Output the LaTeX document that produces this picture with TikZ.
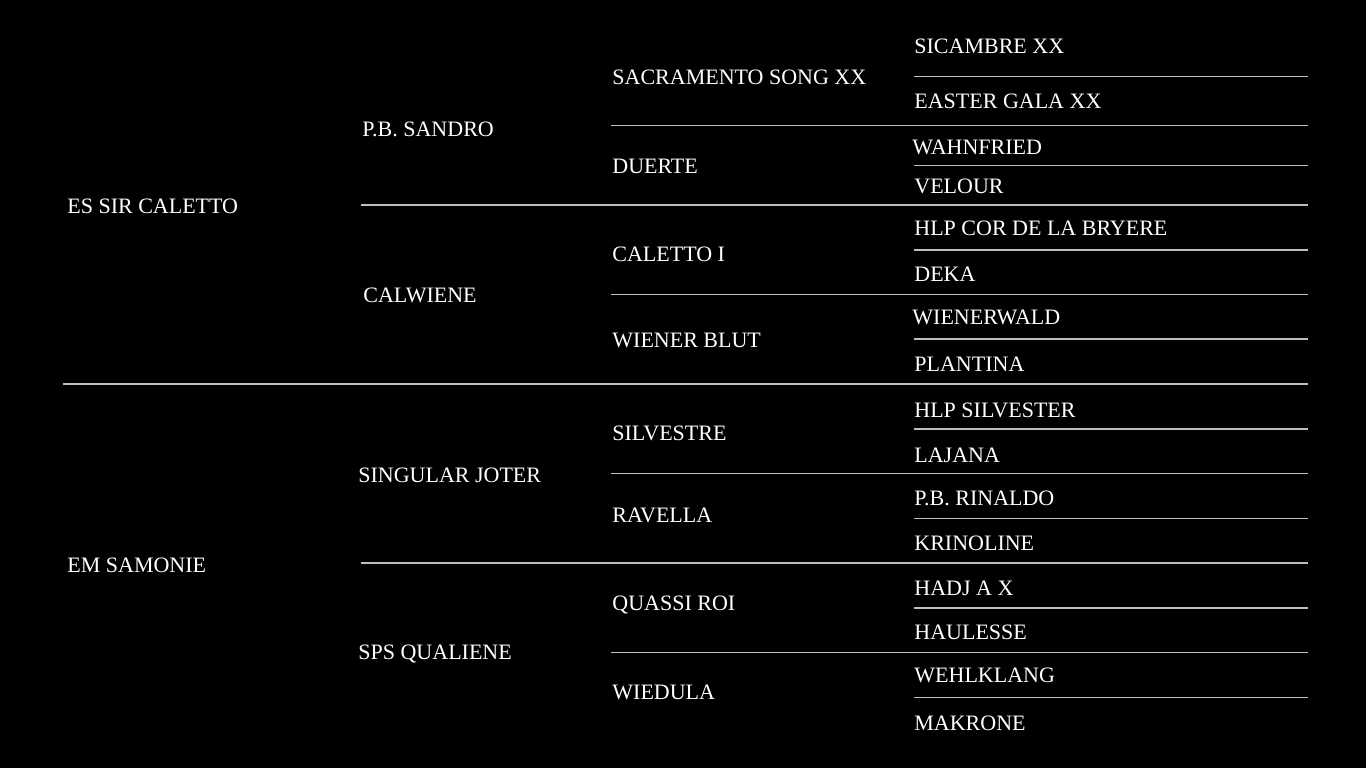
\documentclass[tikz,border=0pt]{standalone}
\usepackage{fontspec}
\setmainfont{Liberation Serif}
\definecolor{rulegray}{HTML}{BDBDBD}
\begin{document}
\begin{tikzpicture}[x=0.5pt, y=-0.5pt, font=\fontsize{11}{13}\selectfont, line join=round,
		horse/.style={anchor=base west, inner sep=0pt, text=white},
		rule/.style={draw=rulegray, line width=0.55pt}]
	\fill[black] (0,0) rectangle (1366,768);
	% separators
	\coordinate (L0) at (63,384);   \coordinate (R0) at (1308,384);
	\draw[rule] (L0)--(R0);
	\foreach \y in {205,563} {
		\coordinate (a) at (361,\y); \coordinate (b) at (1308,\y);
		\draw[rule] (a)--(b);
	}
	\foreach \y in {125.3,294.5,473.5,652.7} {
		\coordinate (a) at (611,\y); \coordinate (b) at (1308,\y);
		\draw[rule] (a)--(b);
	}
	\foreach \y in {76.3,165.3,250,339,429,518.5,608,697.7} {
		\coordinate (a) at (914,\y); \coordinate (b) at (1308,\y);
		\draw[rule] (a)--(b);
	}
	% generation 1
	\node[horse] (sire) at (67,213) {ES SIR CALETTO};
	\node[horse] (dam) at (67,572) {EM SAMONIE};
	% generation 2
	\node[horse] (ss) at (362,136) {P.B. SANDRO};
	\node[horse] (sd) at (363,302.5) {CALWIENE};
	\node[horse] (ds) at (358,482) {SINGULAR JOTER};
	\node[horse] (dd) at (358,659.3) {SPS QUALIENE};
	% generation 3
	\node[horse] (sss) at (612,84) {SACRAMENTO SONG XX};
	\node[horse] (ssd) at (612,173.3) {DUERTE};
	\node[horse] (sds) at (612,261.7) {CALETTO I};
	\node[horse] (sdd) at (612,347.3) {WIENER BLUT};
	\node[horse] (dss) at (612,440) {SILVESTRE};
	\node[horse] (dsd) at (612,522) {RAVELLA};
	\node[horse] (dds) at (612,610.7) {QUASSI ROI};
	\node[horse] (ddd) at (612,699.3) {WIEDULA};
	% generation 4
	\node[horse] (ssss) at (914,53.3) {SICAMBRE XX};
	\node[horse] (sssd) at (914,108.7) {EASTER GALA XX};
	\node[horse] (ssds) at (912,154) {WAHNFRIED};
	\node[horse] (ssdd) at (914,193.3) {VELOUR};
	\node[horse] (sdss) at (914,235) {HLP COR DE LA BRYERE};
	\node[horse] (sdsd) at (914,281) {DEKA};
	\node[horse] (sdds) at (912,324) {WIENERWALD};
	\node[horse] (sddd) at (914,371.5) {PLANTINA};
	\node[horse] (dsss) at (914,417) {HLP SILVESTER};
	\node[horse] (dssd) at (914,462) {LAJANA};
	\node[horse] (dsds) at (914,505.5) {P.B. RINALDO};
	\node[horse] (dsdd) at (914,550.7) {KRINOLINE};
	\node[horse] (ddss) at (914,595) {HADJ A X};
	\node[horse] (ddsd) at (914,639) {HAULESSE};
	\node[horse] (ddds) at (914,682) {WEHLKLANG};
	\node[horse] (dddd) at (914,730.7) {MAKRONE};
\end{tikzpicture}
\end{document}
